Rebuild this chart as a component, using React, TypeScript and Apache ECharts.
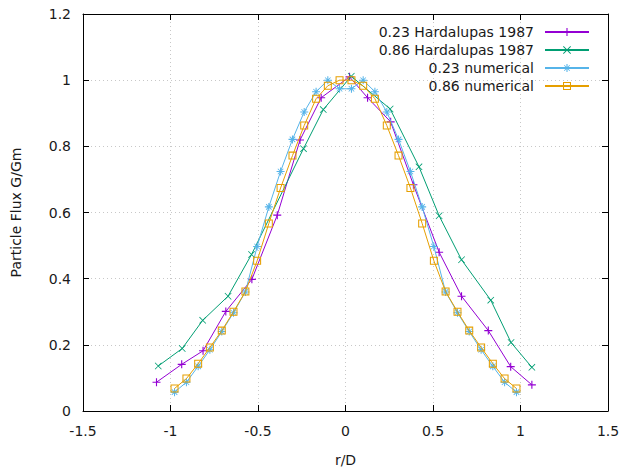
import React, { useEffect, useRef } from "react";
import * as echarts from "echarts";

const xTicks = [-1.5, -1, -0.5, 0, 0.5, 1, 1.5];
const yTicks = [0, 0.2, 0.4, 0.6, 0.8, 1, 1.2];

const hard023X = [-1.08, -0.936, -0.814, -0.684, -0.535, -0.39, -0.26, -0.139, 0.023, 0.126, 0.258, 0.388, 0.535, 0.663, 0.816, 0.944, 1.065];
const hard023Y = [0.087, 0.141, 0.182, 0.301, 0.398, 0.592, 0.819, 0.947, 1.01, 0.947, 0.874, 0.684, 0.48, 0.347, 0.243, 0.134, 0.079];

const hard086X = [-1.07, -0.933, -0.816, -0.671, -0.537, -0.24, -0.127, 0.033, 0.255, 0.42, 0.535, 0.663, 0.83, 0.946, 1.065];
const hard086Y = [0.136, 0.189, 0.274, 0.347, 0.473, 0.793, 0.911, 1.012, 0.913, 0.738, 0.59, 0.457, 0.335, 0.207, 0.132];

const numX = [-0.977, -0.909, -0.842, -0.775, -0.707, -0.64, -0.572, -0.505, -0.438, -0.371, -0.303, -0.236, -0.168, -0.101, -0.034, 0.034, 0.101, 0.168, 0.236, 0.303, 0.371, 0.438, 0.505, 0.572, 0.64, 0.707, 0.775, 0.842, 0.909, 0.977];
const num023Y = [0.057, 0.087, 0.135, 0.185, 0.24, 0.297, 0.36, 0.497, 0.617, 0.724, 0.821, 0.904, 0.965, 1.0, 0.974, 0.974, 1.0, 0.965, 0.904, 0.821, 0.724, 0.617, 0.497, 0.36, 0.297, 0.24, 0.185, 0.135, 0.087, 0.057];
const num086Y = [0.068, 0.098, 0.143, 0.192, 0.243, 0.3, 0.361, 0.454, 0.567, 0.674, 0.772, 0.863, 0.944, 0.983, 1.0, 1.0, 0.983, 0.944, 0.863, 0.772, 0.674, 0.567, 0.454, 0.361, 0.3, 0.243, 0.192, 0.143, 0.098, 0.068];

const seriesNames = ["0.23 Hardalupas 1987", "0.86 Hardalupas 1987", "0.23 numerical", "0.86 numerical"];
const seriesColors = ["#9400d3", "#009e73", "#56b4e9", "#e69f00"];

const PLUS = "path://M0,4.3H10V5.7H0Z M4.3,0H5.7V10H4.3Z";
const CROSS = "path://M0,0.8L0.8,0L10,9.2L9.2,10Z M9.2,0L10,0.8L0.8,10L0,9.2Z";
const STAR = "path://M0,4.35H10V5.65H0Z M4.35,0H5.65V10H4.35Z M1.2,1.9L1.9,1.2L8.8,8.1L8.1,8.8Z M8.1,1.2L8.8,1.9L1.9,8.8L1.2,8.1Z";
const SQUARE = "path://M0,0H10V10H0Z M1.3,1.3V8.7H8.7V1.3Z";

function zip(xs: number[], ys: number[]) {
  return xs.map((x, i) => [x, ys[i]]);
}

export default function App() {
  const ref = useRef<HTMLDivElement>(null);
  useEffect(() => {
    if (!ref.current) return;
    const chart = echarts.init(ref.current, undefined, { renderer: "svg" });
    const font = "DejaVu Sans";
    const fs = 14;
    const txt = "#1a1a1a";
    const symbols = [PLUS, CROSS, STAR, SQUARE];
    const sizes = [8, 7, 8, 8];
    const datas = [zip(hard023X, hard023Y), zip(hard086X, hard086Y), zip(numX, num023Y), zip(numX, num086Y)];
    const gridLine = { show: true, lineStyle: { color: "#c8c8c8", type: [1, 3] as any, width: 1 } };
    const frameLine = { show: true, onZero: false, lineStyle: { color: "#000", width: 1 } };
    const tick = { show: true, inside: true, length: 6, lineStyle: { color: "#000" } };
    chart.setOption({
      animation: false,
      backgroundColor: "#ffffff",
      textStyle: { fontFamily: font },
      grid: { left: 83, right: 16, top: 14, bottom: 58 },
      legend: {
        right: 34,
        top: 25,
        padding: 0,
        orient: "vertical",
        align: "right",
        itemWidth: 44,
        itemHeight: 10,
        itemGap: 4,
        textStyle: { fontFamily: font, fontSize: fs, color: txt, padding: [0, 6, 0, 0] },
        data: seriesNames,
      },
      xAxis: [
        {
          type: "value",
          min: xTicks[0],
          max: xTicks[xTicks.length - 1],
          interval: 0.5,
          name: "r/D",
          nameLocation: "middle",
          nameGap: 42,
          nameTextStyle: { fontFamily: font, fontSize: fs, color: txt },
          axisLine: frameLine,
          axisTick: tick,
          axisLabel: { fontFamily: font, fontSize: fs, color: txt, margin: 13 },
          splitLine: gridLine,
        },
        {
          type: "value",
          position: "top",
          min: xTicks[0],
          max: xTicks[xTicks.length - 1],
          interval: 0.5,
          axisLine: frameLine,
          axisTick: tick,
          axisLabel: { show: false },
          splitLine: { show: false },
        },
      ],
      yAxis: [
        {
          type: "value",
          min: yTicks[0],
          max: yTicks[yTicks.length - 1],
          interval: 0.2,
          name: "Particle Flux G/Gm",
          nameLocation: "middle",
          nameGap: 60,
          nameTextStyle: { fontFamily: font, fontSize: fs, color: txt },
          axisLine: frameLine,
          axisTick: tick,
          axisLabel: { fontFamily: font, fontSize: fs, color: txt, margin: 12 },
          splitLine: gridLine,
        },
        {
          type: "value",
          position: "right",
          min: yTicks[0],
          max: yTicks[yTicks.length - 1],
          interval: 0.2,
          axisLine: frameLine,
          axisTick: tick,
          axisLabel: { show: false },
          splitLine: { show: false },
        },
      ],
      series: seriesNames.map((name, i) => ({
        name,
        type: "line",
        data: datas[i],
        xAxisIndex: 0,
        yAxisIndex: 0,
        symbol: symbols[i],
        symbolSize: sizes[i],
        showAllSymbol: true,
        lineStyle: { color: seriesColors[i], width: 1 },
        itemStyle: { color: seriesColors[i], borderWidth: 0 },
        emphasis: { disabled: true },
        z: 2 + i,
      })),
    });
    return () => chart.dispose();
  }, []);
  return <div ref={ref} style={{ width: 624, height: 472, position: "absolute", left: 0, top: 0 }} />;
}
